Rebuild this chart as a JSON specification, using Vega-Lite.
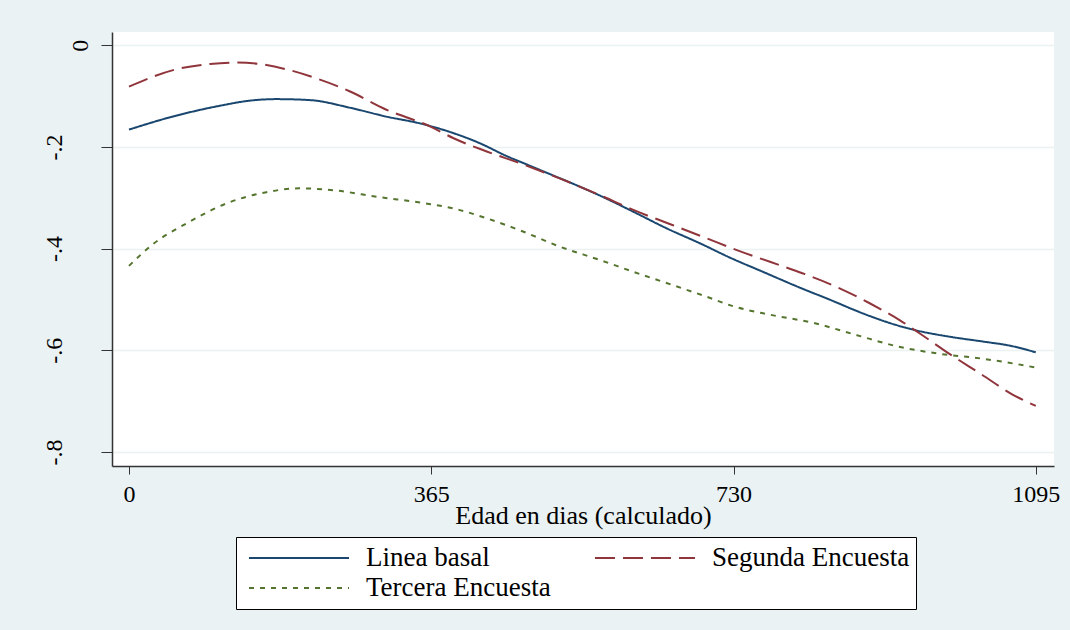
{
  "$schema": "https://vega.github.io/schema/vega-lite/v6.json",
  "width": 942,
  "height": 434,
  "autosize": {"type": "none"},
  "padding": {"left": 112, "top": 32, "right": 16, "bottom": 164},
  "background": "#EAF2F3",
  "view": {"fill": "white", "stroke": null},
  "data": {
    "values": [
      {"serie": "Linea basal", "dia": 0, "v": -0.166},
      {"serie": "Linea basal", "dia": 49, "v": -0.142},
      {"serie": "Linea basal", "dia": 110, "v": -0.119},
      {"serie": "Linea basal", "dia": 146, "v": -0.109},
      {"serie": "Linea basal", "dia": 178, "v": -0.106},
      {"serie": "Linea basal", "dia": 219, "v": -0.108},
      {"serie": "Linea basal", "dia": 267, "v": -0.123},
      {"serie": "Linea basal", "dia": 311, "v": -0.1405},
      {"serie": "Linea basal", "dia": 351, "v": -0.1536},
      {"serie": "Linea basal", "dia": 392, "v": -0.173},
      {"serie": "Linea basal", "dia": 424, "v": -0.193},
      {"serie": "Linea basal", "dia": 456, "v": -0.218},
      {"serie": "Linea basal", "dia": 484, "v": -0.237},
      {"serie": "Linea basal", "dia": 512, "v": -0.256},
      {"serie": "Linea basal", "dia": 537, "v": -0.273},
      {"serie": "Linea basal", "dia": 569, "v": -0.296},
      {"serie": "Linea basal", "dia": 609, "v": -0.3275},
      {"serie": "Linea basal", "dia": 649, "v": -0.36},
      {"serie": "Linea basal", "dia": 690, "v": -0.39},
      {"serie": "Linea basal", "dia": 726, "v": -0.418},
      {"serie": "Linea basal", "dia": 766, "v": -0.446},
      {"serie": "Linea basal", "dia": 806, "v": -0.474},
      {"serie": "Linea basal", "dia": 847, "v": -0.501},
      {"serie": "Linea basal", "dia": 887, "v": -0.528},
      {"serie": "Linea basal", "dia": 927, "v": -0.5506},
      {"serie": "Linea basal", "dia": 951, "v": -0.561},
      {"serie": "Linea basal", "dia": 992, "v": -0.5736},
      {"serie": "Linea basal", "dia": 1032, "v": -0.583},
      {"serie": "Linea basal", "dia": 1064, "v": -0.591},
      {"serie": "Linea basal", "dia": 1095, "v": -0.604},
      {"serie": "Segunda Encuesta", "dia": 0, "v": -0.0815},
      {"serie": "Segunda Encuesta", "dia": 58, "v": -0.047},
      {"serie": "Segunda Encuesta", "dia": 98, "v": -0.037},
      {"serie": "Segunda Encuesta", "dia": 130, "v": -0.034},
      {"serie": "Segunda Encuesta", "dia": 158, "v": -0.037},
      {"serie": "Segunda Encuesta", "dia": 194, "v": -0.049},
      {"serie": "Segunda Encuesta", "dia": 226, "v": -0.065},
      {"serie": "Segunda Encuesta", "dia": 267, "v": -0.091},
      {"serie": "Segunda Encuesta", "dia": 307, "v": -0.124},
      {"serie": "Segunda Encuesta", "dia": 364, "v": -0.16},
      {"serie": "Segunda Encuesta", "dia": 392, "v": -0.183},
      {"serie": "Segunda Encuesta", "dia": 432, "v": -0.209},
      {"serie": "Segunda Encuesta", "dia": 472, "v": -0.232},
      {"serie": "Segunda Encuesta", "dia": 520, "v": -0.262},
      {"serie": "Segunda Encuesta", "dia": 569, "v": -0.295},
      {"serie": "Segunda Encuesta", "dia": 609, "v": -0.324},
      {"serie": "Segunda Encuesta", "dia": 657, "v": -0.354},
      {"serie": "Segunda Encuesta", "dia": 698, "v": -0.38},
      {"serie": "Segunda Encuesta", "dia": 734, "v": -0.403},
      {"serie": "Segunda Encuesta", "dia": 774, "v": -0.426},
      {"serie": "Segunda Encuesta", "dia": 814, "v": -0.449},
      {"serie": "Segunda Encuesta", "dia": 854, "v": -0.475},
      {"serie": "Segunda Encuesta", "dia": 895, "v": -0.508},
      {"serie": "Segunda Encuesta", "dia": 931, "v": -0.541},
      {"serie": "Segunda Encuesta", "dia": 955, "v": -0.567},
      {"serie": "Segunda Encuesta", "dia": 987, "v": -0.603},
      {"serie": "Segunda Encuesta", "dia": 1028, "v": -0.646},
      {"serie": "Segunda Encuesta", "dia": 1068, "v": -0.688},
      {"serie": "Segunda Encuesta", "dia": 1095, "v": -0.7095},
      {"serie": "Tercera Encuesta", "dia": 0, "v": -0.434},
      {"serie": "Tercera Encuesta", "dia": 30, "v": -0.39},
      {"serie": "Tercera Encuesta", "dia": 70, "v": -0.35},
      {"serie": "Tercera Encuesta", "dia": 118, "v": -0.311},
      {"serie": "Tercera Encuesta", "dia": 166, "v": -0.289},
      {"serie": "Tercera Encuesta", "dia": 206, "v": -0.2815},
      {"serie": "Tercera Encuesta", "dia": 251, "v": -0.286},
      {"serie": "Tercera Encuesta", "dia": 299, "v": -0.298},
      {"serie": "Tercera Encuesta", "dia": 358, "v": -0.311},
      {"serie": "Tercera Encuesta", "dia": 392, "v": -0.321},
      {"serie": "Tercera Encuesta", "dia": 432, "v": -0.3405},
      {"serie": "Tercera Encuesta", "dia": 472, "v": -0.364},
      {"serie": "Tercera Encuesta", "dia": 520, "v": -0.396},
      {"serie": "Tercera Encuesta", "dia": 569, "v": -0.4226},
      {"serie": "Tercera Encuesta", "dia": 609, "v": -0.4456},
      {"serie": "Tercera Encuesta", "dia": 657, "v": -0.472},
      {"serie": "Tercera Encuesta", "dia": 698, "v": -0.495},
      {"serie": "Tercera Encuesta", "dia": 730, "v": -0.5136},
      {"serie": "Tercera Encuesta", "dia": 774, "v": -0.53},
      {"serie": "Tercera Encuesta", "dia": 826, "v": -0.546},
      {"serie": "Tercera Encuesta", "dia": 879, "v": -0.5703},
      {"serie": "Tercera Encuesta", "dia": 927, "v": -0.592},
      {"serie": "Tercera Encuesta", "dia": 975, "v": -0.606},
      {"serie": "Tercera Encuesta", "dia": 1028, "v": -0.616},
      {"serie": "Tercera Encuesta", "dia": 1068, "v": -0.626},
      {"serie": "Tercera Encuesta", "dia": 1095, "v": -0.634}
    ]
  },
  "mark": {"type": "line", "strokeWidth": 2, "interpolate": "monotone"},
  "encoding": {
    "x": {
      "field": "dia",
      "type": "quantitative",
      "scale": {"domain": [-20.5, 1117], "nice": false, "zero": false},
      "axis": {
        "values": [0, 365, 730, 1095],
        "format": "d",
        "title": "Edad en dias (calculado)",
        "grid": false,
        "labelFont": "Liberation Serif",
        "labelFontSize": 24,
        "labelColor": "black",
        "labelPadding": 8,
        "labelFlush": false,
        "labelOverlap": false,
        "titleFont": "Liberation Serif",
        "titleFontSize": 26,
        "titleFontWeight": "normal",
        "titleColor": "black",
        "titlePadding": -4,
        "tickSize": 8,
        "tickColor": "#333333",
        "domainColor": "#333333",
        "domainWidth": 1.5
      }
    },
    "y": {
      "field": "v",
      "type": "quantitative",
      "scale": {"domain": [-0.8276, 0.026], "nice": false, "zero": false},
      "axis": {
        "values": [0, -0.2, -0.4, -0.6, -0.8],
        "labelExpr": "datum.value == 0 ? '0' : replace(replace(format(datum.value, '.1f'), '0.', '.'), '\u2212', '-')",
        "title": null,
        "grid": true,
        "gridColor": "#EAF2F3",
        "gridWidth": 1.5,
        "labelAngle": -90,
        "labelFont": "Liberation Serif",
        "labelFontSize": 24,
        "labelColor": "black",
        "labelPadding": {"condition": {"test": "datum.value == 0", "value": 9}, "value": 35},
        "labelFlush": false,
        "labelOverlap": false,
        "tickSize": 11,
        "tickColor": "#333333",
        "domainColor": "#333333",
        "domainWidth": 1.5
      }
    },
    "color": {
      "field": "serie",
      "type": "nominal",
      "scale": {
        "domain": ["Linea basal", "Segunda Encuesta", "Tercera Encuesta"],
        "range": ["#1A476F", "#90353B", "#55752F"]
      },
      "legend": {
        "orient": "none",
        "legendX": 124,
        "legendY": 505,
        "direction": "horizontal",
        "columns": 2,
        "title": null,
        "symbolType": "stroke",
        "symbolSize": 10000,
        "symbolStrokeWidth": 2,
        "symbolOffset": 6,
        "clipHeight": 30,
        "labelFont": "Liberation Serif",
        "labelFontSize": 27,
        "labelColor": "black",
        "labelOffset": 16,
        "labelLimit": 400,
        "padding": 6,
        "columnPadding": 37,
        "rowPadding": 0,
        "fillColor": "white",
        "strokeColor": "black"
      }
    },
    "strokeDash": {
      "field": "serie",
      "type": "nominal",
      "scale": {
        "domain": ["Linea basal", "Segunda Encuesta", "Tercera Encuesta"],
        "range": [[1, 0], [20, 8], [5, 6]]
      },
      "legend": {
        "orient": "none",
        "legendX": 124,
        "legendY": 505,
        "direction": "horizontal",
        "columns": 2,
        "title": null,
        "symbolType": "stroke",
        "symbolSize": 10000,
        "symbolStrokeWidth": 2,
        "symbolOffset": 6,
        "clipHeight": 30,
        "labelFont": "Liberation Serif",
        "labelFontSize": 27,
        "labelColor": "black",
        "labelOffset": 16,
        "labelLimit": 400,
        "padding": 6,
        "columnPadding": 37,
        "rowPadding": 0,
        "fillColor": "white",
        "strokeColor": "black"
      }
    }
  }
}
